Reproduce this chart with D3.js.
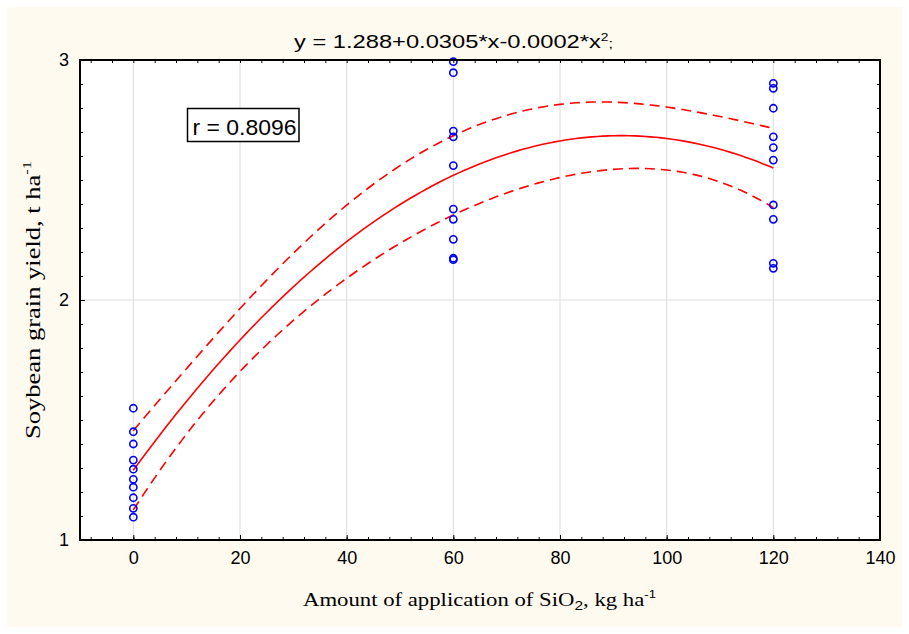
<!DOCTYPE html>
<html>
<head>
<meta charset="utf-8">
<script src="https://cdn.jsdelivr.net/npm/d3@7/dist/d3.min.js"></script>
<style>
  html, body { margin: 0; padding: 0; background: #ffffff; }
  svg { display: block; }
</style>
</head>
<body>
<svg id="chart" width="909" height="634"></svg>
<script>
// ---------------- data ----------------
const doses = [0, 60, 120];
const yieldDose0   = [1.549, 1.451, 1.400, 1.333, 1.295, 1.253, 1.220, 1.176, 1.132, 1.095];
const yieldDose60  = [2.993, 2.947, 2.704, 2.680, 2.560, 2.379, 2.336, 2.253, 2.174, 2.168];
const yieldDose120 = [2.903, 2.882, 2.799, 2.680, 2.635, 2.583, 2.396, 2.336, 2.153, 2.132];
const xMajorTicks = [0, 20, 40, 60, 80, 100, 120, 140];
const yMajorTicks = [1, 2, 3];
const titleText = "y = 1.288+0.0305*x-0.0002*x";
const rText = "r = 0.8096";
const tCrit = 2.052; // t(0.975, df = 27)

// ---------------- layout ----------------
const svg = d3.select("#chart");
const W = 909, H = 634;
const plot = { left: 80, right: 880, top: 60, bottom: 540 };

svg.append("rect").attr("x", 7).attr("y", 7).attr("width", 895).attr("height", 620)
  .attr("fill", "#fffaf0");

const x = d3.scaleLinear().domain([-10, 140]).range([plot.left, plot.right]);
const y = d3.scaleLinear().domain([1, 3]).range([plot.bottom, plot.top]);

svg.append("rect").attr("x", plot.left).attr("y", plot.top)
  .attr("width", plot.right - plot.left).attr("height", plot.bottom - plot.top)
  .attr("fill", "#ffffff");

// grid
const g = svg.append("g");
g.selectAll("line.vg").data(xMajorTicks.filter(d => d > -10 && d < 140)).join("line")
  .attr("x1", d => x(d)).attr("x2", d => x(d)).attr("y1", plot.top).attr("y2", plot.bottom)
  .attr("stroke", "#dcdcdc").attr("stroke-width", 1);
g.selectAll("line.hg").data(yMajorTicks.filter(d => d > 1 && d < 3)).join("line")
  .attr("x1", plot.left).attr("x2", plot.right).attr("y1", d => y(d)).attr("y2", d => y(d))
  .attr("stroke", "#dcdcdc").attr("stroke-width", 1);

// ---------------- regression (quadratic least squares) ----------------
const pts = [];
[yieldDose0, yieldDose60, yieldDose120].forEach((arr, i) => arr.forEach(v => pts.push([doses[i], v])));
const n = pts.length;
// normal equations
const S = [[0,0,0],[0,0,0],[0,0,0]], R = [0,0,0];
pts.forEach(([xi, yi]) => {
  const f = [1, xi, xi * xi];
  for (let a = 0; a < 3; a++) { R[a] += f[a] * yi; for (let b = 0; b < 3; b++) S[a][b] += f[a] * f[b]; }
});
function inv3(m) {
  const [a,b,c] = m[0], [d,e,f] = m[1], [gg,h,k] = m[2];
  const A = e*k - f*h, B = -(d*k - f*gg), C = d*h - e*gg;
  const det = a*A + b*B + c*C;
  return [
    [A/det, -(b*k - c*h)/det, (b*f - c*e)/det],
    [B/det, (a*k - c*gg)/det, -(a*f - c*d)/det],
    [C/det, -(a*h - b*gg)/det, (a*e - b*d)/det]
  ];
}
const Sinv = inv3(S);
const coef = [0,1,2].map(a => Sinv[a][0]*R[0] + Sinv[a][1]*R[1] + Sinv[a][2]*R[2]);
const fit = xv => coef[0] + coef[1]*xv + coef[2]*xv*xv;
const sse = d3.sum(pts, ([xi, yi]) => (yi - fit(xi)) ** 2);
const s = Math.sqrt(sse / (n - 3));
const se = xv => {
  const f = [1, xv, xv*xv];
  let h = 0;
  for (let a = 0; a < 3; a++) for (let b = 0; b < 3; b++) h += f[a] * Sinv[a][b] * f[b];
  return s * Math.sqrt(h);
};
const xs = d3.range(0, 120.01, 1);
const line = d3.line().x(d => x(d[0])).y(d => y(d[1]));

svg.append("path").datum(xs.map(v => [v, fit(v)])).attr("d", line)
  .attr("fill", "none").attr("stroke", "#ff0000").attr("stroke-width", 1.6);
svg.append("path").datum(xs.map(v => [v, fit(v) + tCrit * se(v)])).attr("d", line)
  .attr("fill", "none").attr("stroke", "#ff0000").attr("stroke-width", 1.6).attr("stroke-dasharray", "10,6");
svg.append("path").datum(xs.map(v => [v, fit(v) - tCrit * se(v)])).attr("d", line)
  .attr("fill", "none").attr("stroke", "#ff0000").attr("stroke-width", 1.6).attr("stroke-dasharray", "10,6");

// points
svg.append("g").selectAll("circle").data(pts).join("circle")
  .attr("cx", d => x(d[0])).attr("cy", d => y(d[1])).attr("r", 3.6)
  .attr("fill", "none").attr("stroke", "#0000ff").attr("stroke-width", 1.6);

// ---------------- axes ----------------
const xMinor = d3.range(-8, 140.01, 4);
const yMinor = d3.range(1, 3.001, 0.1).map(v => +v.toFixed(2));
function styleAxis(sel) {
  sel.select(".domain").remove();
  sel.selectAll(".tick line").attr("stroke", "#000").attr("stroke-width", 1);
  sel.selectAll(".tick text").attr("fill", "#000");
}
const tickFont = "'Liberation Sans', Arial, sans-serif";
// bottom
svg.append("g").attr("transform", `translate(0,${plot.bottom})`)
  .call(d3.axisBottom(x).tickValues(xMinor).tickSize(-3).tickFormat("")).call(styleAxis);
svg.append("g").attr("transform", `translate(0,${plot.bottom})`)
  .call(d3.axisBottom(x).tickValues(xMajorTicks).tickSize(-5).tickPadding(11).tickFormat(d3.format("d")))
  .call(styleAxis)
  .call(a => a.selectAll("text").attr("font-family", tickFont).attr("font-size", 18));
// top
svg.append("g").attr("transform", `translate(0,${plot.top})`)
  .call(d3.axisTop(x).tickValues(xMinor).tickSize(-3).tickFormat("")).call(styleAxis);
// left
svg.append("g").attr("transform", `translate(${plot.left},0)`)
  .call(d3.axisLeft(y).tickValues(yMinor).tickSize(-3).tickFormat("")).call(styleAxis);
svg.append("g").attr("transform", `translate(${plot.left},0)`)
  .call(d3.axisLeft(y).tickValues(yMajorTicks).tickSize(-5).tickPadding(11).tickFormat(d3.format("d")))
  .call(styleAxis)
  .call(a => a.selectAll("text").attr("font-family", tickFont).attr("font-size", 18));
// right
svg.append("g").attr("transform", `translate(${plot.right},0)`)
  .call(d3.axisRight(y).tickValues(yMinor).tickSize(-3).tickFormat("")).call(styleAxis);

// frame
svg.append("rect").attr("x", plot.left).attr("y", plot.top)
  .attr("width", plot.right - plot.left).attr("height", plot.bottom - plot.top)
  .attr("fill", "none").attr("stroke", "#000").attr("stroke-width", 2);

// ---------------- texts ----------------
const title = svg.append("text").attr("x", 294).attr("y", 48)
  .attr("font-family", tickFont).attr("font-size", 19).attr("fill", "#000")
  .attr("textLength", 319).attr("lengthAdjust", "spacingAndGlyphs");
title.append("tspan").text(titleText);
title.append("tspan").attr("font-size", 11).attr("dy", -7).text("2");
title.append("tspan").attr("font-size", 13).attr("dy", 7).text(";");

// r box
svg.append("rect").attr("x", 187.5).attr("y", 108.5).attr("width", 111.5).attr("height", 33)
  .attr("fill", "#fff").attr("stroke", "#000").attr("stroke-width", 1.5);
svg.append("text").attr("x", 192.5).attr("y", 135)
  .attr("font-family", tickFont).attr("font-size", 22).attr("fill", "#000")
  .attr("textLength", 104).attr("lengthAdjust", "spacingAndGlyphs").text(rText);

// x label
const serif = "'Liberation Serif', 'Times New Roman', serif";
const xl = svg.append("text").attr("x", 303).attr("y", 606)
  .attr("font-family", serif).attr("font-size", 19).attr("fill", "#000")
  .attr("textLength", 353).attr("lengthAdjust", "spacingAndGlyphs");
xl.append("tspan").text("Amount of application of SiO");
xl.append("tspan").attr("font-family", tickFont).attr("font-size", 13).attr("dy", 4).text("2");
xl.append("tspan").attr("dy", -4).text(", kg ha");
xl.append("tspan").attr("font-family", tickFont).attr("font-size", 11).attr("dy", -8).text("-1");

// y label
const yl = svg.append("text").attr("transform", "translate(40,439) rotate(-90)")
  .attr("x", 0).attr("y", 0)
  .attr("font-family", serif).attr("font-size", 21).attr("fill", "#000")
  .attr("textLength", 278).attr("lengthAdjust", "spacingAndGlyphs");
yl.append("tspan").text("Soybean grain yield, t ha");
yl.append("tspan").attr("font-size", 13).attr("dy", -9).text("-1");
</script>
</body>
</html>
